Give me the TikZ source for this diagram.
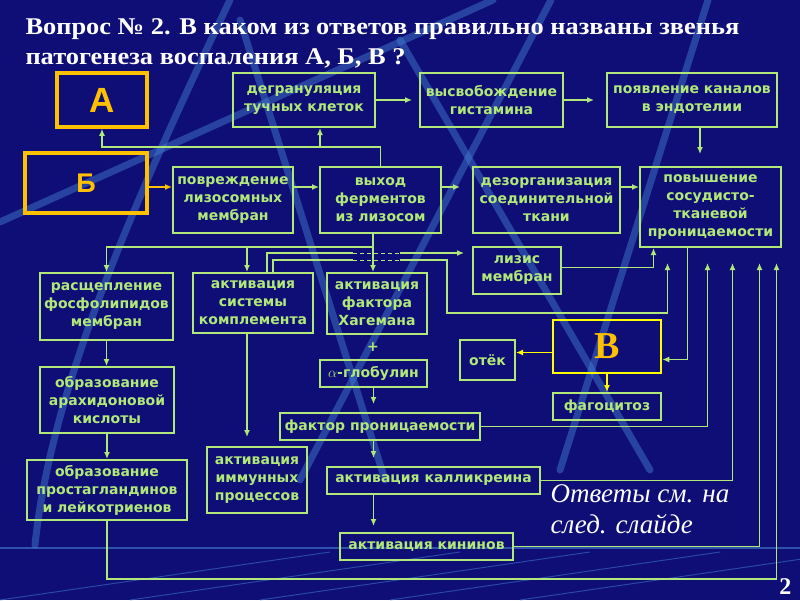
\documentclass[tikz,border=0pt]{standalone}
\usepackage{fontspec}
\setmainfont{Liberation Serif}
\newfontfamily\titlefont[FakeStretch=1.1]{Liberation Serif}
\newfontfamily\boxfont{DejaVu Sans}
\newfontfamily\letterfont{Liberation Sans}
\usetikzlibrary{arrows.meta}
\definecolor{bgnavy}{RGB}{14,14,118}
\definecolor{lgreen}{RGB}{178,232,122}
\definecolor{gold}{RGB}{255,192,0}
\definecolor{vyel}{RGB}{255,255,0}
\definecolor{streak}{RGB}{70,130,210}
\begin{document}
\begin{tikzpicture}[x=1pt,y=-1pt,
  >={Latex[length=7pt,width=6pt]},
  blk/.style={draw=lgreen,line width=2pt,text=lgreen,align=center,inner sep=0pt,
    font=\boxfont\bfseries\fontsize{14}{18}\selectfont},
  sz/.style 2 args={minimum width=#1,minimum height=#2},
  keybox/.style={draw=gold,line width=3.5pt,text=gold,inner sep=0pt,
    font=\letterfont\bfseries},
  link/.style={draw=lgreen,line width=1.8pt},
  ylink/.style={draw=gold,line width=1.8pt},
  glow/.style={streak,line width=7pt,opacity=0.45,line cap=round}]
% background
\fill[bgnavy] (0,0) rectangle (800,600);
\useasboundingbox (0,0) rectangle (800,600);
\draw[glow] (0,222) -- (493,0);
\draw[glow] (230,0) .. controls (120,230) and (50,400) .. (35,545);
\draw[glow] (240,20) -- (385,480);
\draw[glow] (551,0) -- (300,480);
\draw[glow] (400,40) -- (650,470);
\draw[glow] (708,0) -- (560,470);
\draw[streak,line width=2pt,opacity=0.6] (0,548) -- (800,548);
\foreach \s in {0,130,260,390,520}
  \draw[streak,line width=1pt,opacity=0.5] (\s,600) -- (\s+330,552);
% title
\node[anchor=base west,text=white,font=\titlefont\bfseries\fontsize{24}{28}\selectfont] (t1) at (22,34)
  {Вопрос № 2. В каком из ответов правильно названы звенья};
\node[anchor=base west,text=white,font=\titlefont\bfseries\fontsize{24}{28}\selectfont] (t2) at (22,64)
  {патогенеза воспаления А, Б, В ?};
% key boxes
\node[keybox,sz={90pt}{54pt},font=\letterfont\bfseries\fontsize{35}{40}\selectfont] (a) at (102,100) {А};
\node[keybox,sz={122pt}{60pt},font=\letterfont\bfseries\fontsize{27}{32}\selectfont] (b) at (86,183) {Б};
\node[draw=vyel,line width=2.5pt,sz={108pt}{53pt},text=gold,
  font=\bfseries\fontsize{38}{40}\selectfont] (v) at (607,346.5) {В};
% top row
\node[blk,sz={142pt}{54pt}] (degr) at (304,100) {дегрануляция\\тучных клеток};
\node[blk,sz={143pt}{54pt}] (hist) at (491.5,100) {высвобождение\\гистамина};
\node[blk,sz={170pt}{54pt}] (chan) at (692,100) {появление каналов\\в эндотелии};
% second row
\node[blk,sz={120pt}{66pt}] (lys) at (233,200) {повреждение\\лизосомных\\мембран};
\node[blk,sz={121pt}{66pt}] (ferm) at (380.5,200) {выход\\ферментов\\из лизосом};
\node[blk,sz={147pt}{66pt}] (tiss) at (546.5,200) {дезорганизация\\соединительной\\ткани};
\node[blk,sz={141pt}{80pt}] (perm) at (710.5,207) {повышение\\сосудисто-\\тканевой\\проницаемости};
\node[blk,sz={88pt}{47pt}] (lysis) at (517,270.5) {лизис\\мембран};
% third row
\node[blk,sz={133pt}{67pt}] (phos) at (106.5,306.5) {расщепление\\фосфолипидов\\мембран};
\node[blk,sz={120pt}{60pt}] (compl) at (253,303) {активация\\системы\\комплемента};
\node[blk,sz={100pt}{61pt}] (hag) at (377,303.5) {активация\\фактора\\Хагемана};
\node[text=lgreen,font=\boxfont\bfseries\fontsize{14}{16}\selectfont] (plus) at (373,347) {+};
\node[blk,sz={107pt}{27pt}] (glob) at (373.5,373.5) {$\alpha$-глобулин};
\node[blk,sz={55pt}{40pt}] (edema) at (487.5,360) {отёк};
\node[blk,sz={108pt}{27pt}] (phag) at (607,406.5) {фагоцитоз};
% lower part
\node[blk,sz={134pt}{66pt}] (arach) at (107,400) {образование\\арахидоновой\\кислоты};
\node[blk,sz={200pt}{27pt}] (pf) at (380,426.5) {фактор проницаемости};
\node[blk,sz={160pt}{60pt}] (prost) at (107,490) {образование\\простагландинов\\и лейкотриенов};
\node[blk,sz={100pt}{66pt}] (immun) at (257,480) {активация\\иммунных\\процессов};
\node[blk,sz={213pt}{27pt}] (kall) at (433.5,480.5) {активация калликреина};
\node[blk,sz={173pt}{27pt}] (kin) at (426.5,546.5) {активация кининов};
% notes
\node[anchor=base west,text=white,font=\itshape\fontsize{27}{30}\selectfont] (ans1) at (547,502) {Ответы см. на};
\node[anchor=base west,text=white,font=\itshape\fontsize{27}{30}\selectfont] (ans2) at (547,533) {след. слайде};
\node[anchor=base east,text=white,font=\bfseries\fontsize{24}{26}\selectfont] (num) at (795,594) {2};
% connectors
\draw[ylink,->] ([yshift=-4pt]b.east) -- ([yshift=-4pt]b.east -| lys.west);
\draw[link,->] ([yshift=13pt]lys.east) -- ([yshift=13pt]ferm.west);
\draw[link,->,shorten >=12pt] ([yshift=13pt]ferm.east) -- ([yshift=13pt]tiss.west);
\draw[link,->] ([yshift=13pt]tiss.east) -- ([yshift=13pt]tiss.east -| perm.west);
\coordinate (j1) at (320,147);
\draw[link,->] (ferm.north) -- (ferm.north |- j1) -| (a.south);
\draw[link,->] (j1) -- (j1 |- degr.south);
\draw[link,->,shorten >=7pt] (degr.east) -- (hist.west);
\draw[link,->,shorten >=12pt] (hist.east) -- (chan.west);
\draw[link,->,shorten >=12pt] ([xshift=8pt]chan.south) -- ([xshift=8pt]chan.south |- perm.north);
% out of lysosomes
\coordinate (j2) at (373,247);
\draw[link,->] (j2 |- ferm.south) -- (j2 |- hag.north);
\draw[link,->] (j2) -| (phos.north);
\draw[link,->] ([xshift=-6pt]compl.north |- j2) -- ([xshift=-6pt]compl.north);
% complement lines, hopping over
\coordinate (h1) at (353,253);
\coordinate (h2) at (400,253);
\coordinate (h3) at (353,260);
\coordinate (h4) at (400,260);
\draw[link] ([xshift=14pt]compl.north) |- (h1);
\draw[link] ([xshift=20pt]compl.north) |- (h3);
\draw[lgreen,line width=0.8pt,dash pattern=on 4pt off 3pt] (h1) -- (h2) (h3) -- (h4);
\draw[link,->,shorten >=8pt] (h2) -- (h2 -| lysis.west);
\draw[link,->,shorten >=15pt] (h4) -- (447,260) -- (447,313) -| ([xshift=-43pt]perm.south);
\draw[link,->] ([yshift=3pt]lysis.east) -| ([xshift=-57pt]perm.south);
% permeability and B
\draw[link,->] ([xshift=-23pt]perm.south) |- ([yshift=-13pt]v.east);
\draw[ylink,draw=vyel,->] ([yshift=-6pt]v.west) -- ([yshift=-6pt]v.west -| edema.east);
\draw[ylink,draw=vyel,->] (v.south) -- (phag.north);
\draw[link,->,shorten >=15pt] (pf.east) -| ([xshift=-3pt]perm.south);
\draw[link,->,shorten >=15pt] (kall.east) -| ([xshift=22pt]perm.south);
\draw[link,->,shorten >=15pt] (kin.east) -| ([xshift=49pt]perm.south);
\draw[link,->,shorten >=15pt] (prost.south) -- ++(0,58) -| ([xshift=66pt]perm.south);
% left column
\draw[link,->] (phos.south) -- (phos.south |- arach.north);
\draw[link,->] (arach.south) -- (arach.south |- prost.north);
\draw[link,->,shorten >=9pt] ([xshift=-6pt]compl.south) -- ([xshift=-6pt]compl.south |- immun.north);
% Hageman chain
\draw[link,->,shorten >=8pt] (glob.south) -- (glob.south |- pf.north);
\draw[link,->,shorten >=8pt] (glob.south |- pf.south) -- (glob.south |- kall.north);
\draw[link,->,shorten >=6pt] (glob.south |- kall.south) -- (glob.south |- kin.north);
\end{tikzpicture}
\end{document}
